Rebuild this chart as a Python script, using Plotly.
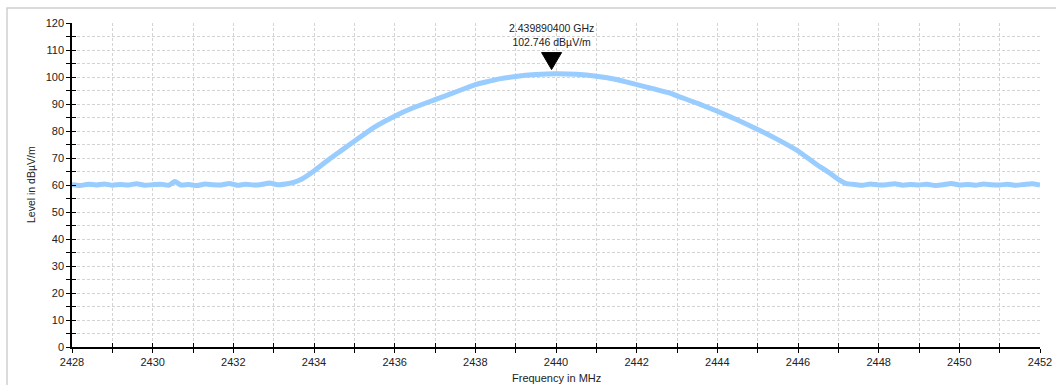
import plotly.graph_objects as go

# ---- data ----
freq_left = [2428.0, 2428.2, 2428.4, 2428.6, 2428.8, 2429.0, 2429.2, 2429.4, 2429.6, 2429.8,
             2430.0, 2430.2, 2430.4, 2430.55, 2430.7, 2430.9, 2431.1, 2431.3, 2431.5, 2431.7,
             2431.9, 2432.1, 2432.3, 2432.5, 2432.7, 2432.9, 2433.1, 2433.3]
level_left = [60.1, 59.8, 60.3, 60.0, 60.4, 59.9, 60.2, 60.0, 60.5, 59.9,
              60.1, 60.3, 59.9, 61.3, 60.0, 60.2, 59.8, 60.4, 60.1, 60.0,
              60.6, 59.9, 60.3, 60.0, 60.2, 60.7, 60.1, 60.4]

freq_peak = [2433.5, 2433.7, 2434.0, 2434.4, 2434.7, 2435.0, 2435.47, 2436.0, 2436.46, 2437.0,
             2437.45, 2438.0, 2438.3, 2438.6, 2439.0, 2439.5, 2440.0, 2440.5, 2441.0, 2441.5,
             2442.0, 2442.4, 2442.83, 2443.0, 2443.5, 2444.0, 2444.5, 2445.0, 2445.5, 2446.0,
             2446.46, 2446.75, 2447.0, 2447.2]
level_peak = [61.0, 62.2, 65.2, 69.8, 73.0, 76.2, 81.2, 85.5, 88.6, 91.6,
              94.1, 97.2, 98.3, 99.3, 100.2, 100.9, 101.2, 101.0, 100.3, 99.1,
              97.2, 95.7, 94.0, 93.0, 90.3, 87.3, 84.1, 80.6, 76.8, 72.6,
              67.6, 64.8, 62.1, 60.5]

freq_right = [2447.4, 2447.6, 2447.8, 2448.0, 2448.2, 2448.4, 2448.6, 2448.8, 2449.0, 2449.2,
              2449.4, 2449.6, 2449.8, 2450.0, 2450.2, 2450.4, 2450.6, 2450.8, 2451.0, 2451.2,
              2451.4, 2451.6, 2451.8, 2452.0]
level_right = [60.2, 59.9, 60.4, 60.0, 60.1, 60.5, 59.9, 60.2, 60.0, 60.3,
               59.8, 60.1, 60.6, 60.0, 60.2, 59.9, 60.4, 60.1, 60.0, 60.3,
               59.9, 60.2, 60.5, 60.0]

marker_freq = 2439.8904
marker_level = 102.746
marker_text = ["2.439890400 GHz", "102.746 dBµV/m"]

x_range = [2428, 2452]
y_range = [0, 120]
x_title = "Frequency in MHz"
y_title = "Level in dBµV/m"

freq = freq_left + freq_peak + freq_right
level = level_left + level_peak + level_right

FONT = "Liberation Sans, Arial, sans-serif"
GRID = "#d4d4d4"

ML, MR, MT, MB = 72, 16, 23, 38
W, H = 1056, 385
PW, PH = W - ML - MR, H - MT - MB

fig = go.Figure()
fig.add_trace(go.Scatter(x=freq, y=level, mode="lines",
                         line=dict(color="#99CCFF", width=5, shape="spline", smoothing=0.5),
                         hoverinfo="skip", showlegend=False))
# invisible trace to carry the overlay axes (inner tick halves)
fig.add_trace(go.Scatter(x=[x_range[0]], y=[y_range[0]], xaxis="x2", yaxis="y2",
                         mode="markers", marker=dict(opacity=0), hoverinfo="skip",
                         showlegend=False))

axis_common = dict(showline=True, linecolor="black", linewidth=1.5, automargin=False,
                   ticks="outside", ticklen=4, tickcolor="black", tickwidth=1.2,
                   showgrid=True, gridcolor=GRID, griddash="3px,2px", gridwidth=1,
                   zeroline=False, tickfont=dict(family=FONT, size=11, color="#222"))

fig.update_layout(
    width=W, height=H,
    margin=dict(l=ML, r=MR, t=MT, b=MB, autoexpand=False),
    paper_bgcolor="white", plot_bgcolor="white",
    font=dict(family=FONT, color="#222"),
    xaxis=dict(range=x_range, dtick=2, tick0=2428,
               minor=dict(dtick=1, ticks="outside", ticklen=4, tickcolor="black",
                          showgrid=True, gridcolor=GRID, griddash="3px,2px"),
               **axis_common),
    yaxis=dict(range=y_range, dtick=10, tick0=0,
               minor=dict(dtick=5, ticks="outside", ticklen=4, tickcolor="black",
                          showgrid=True, gridcolor=GRID, griddash="3px,2px"),
               **axis_common),
    xaxis2=dict(overlaying="x", matches="x", anchor="y", showline=False, showgrid=False,
                zeroline=False, showticklabels=False, ticks="inside", ticklen=4,
                tickcolor="black", dtick=1, tick0=2428, automargin=False),
    yaxis2=dict(overlaying="y", matches="y", anchor="x", showline=False, showgrid=False,
                zeroline=False, showticklabels=False, ticks="inside", ticklen=4,
                tickcolor="black", dtick=5, tick0=0, automargin=False),
)

# axis titles
fig.add_annotation(text=x_title, xref="paper", yref="paper", x=0.5, y=-31 / PH,
                   xanchor="center", yanchor="middle", showarrow=False,
                   font=dict(family=FONT, size=11, color="#222"))
fig.add_annotation(text=y_title, xref="paper", yref="paper", x=(31 - ML) / PW, y=0.5,
                   xanchor="center", yanchor="middle", textangle=-90, showarrow=False,
                   font=dict(family=FONT, size=10.5, color="#222"))

# outer frame (starts at pixel 7,8 like the reference)
fig.add_shape(type="rect", xref="paper", yref="paper",
              x0=(7 - ML) / PW, x1=1.2, y0=-0.4, y1=1 + (MT - 8) / PH,
              line=dict(color="#cfcfcf", width=1.5), layer="above")

# marker triangle (pixel-sized, anchored at the marker value)
fig.add_shape(type="path", xref="x", yref="y", xsizemode="pixel", ysizemode="pixel",
              xanchor=marker_freq, yanchor=marker_level,
              path="M-10,17 L10,17 L0,0 Z", fillcolor="black",
              line=dict(color="black", width=1))

fig.add_annotation(x=marker_freq, y=marker_level, xref="x", yref="y",
                   text="<br>".join(marker_text), showarrow=False,
                   yanchor="bottom", yshift=20,
                   font=dict(family=FONT, size=10.5, color="#222"))

fig.write_html("out.html", config={"displayModeBar": False},
               post_script="document.body.style.margin='0';"
                           "document.body.style.overflow='hidden';")
